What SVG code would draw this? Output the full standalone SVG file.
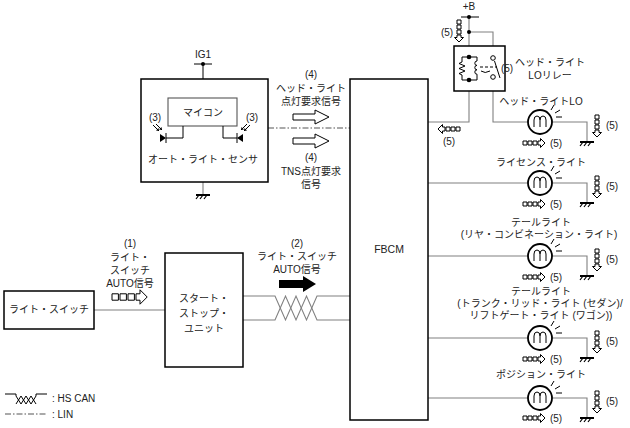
<svg xmlns="http://www.w3.org/2000/svg" xmlns:xlink="http://www.w3.org/1999/xlink" width="630" height="428" viewBox="0 0 630 428">
<style>
text{font-family:"Liberation Sans","Noto Sans CJK JP",sans-serif;font-size:10px;fill:#222;text-anchor:middle}
.box{fill:#fff;stroke:#000;stroke-width:1.5}
.wire{fill:none;stroke:#808080;stroke-width:1.1}
.blk{fill:none;stroke:#000;stroke-width:1}
.lin{fill:none;stroke:#555;stroke-width:1.1;stroke-dasharray:6 2 1.5 2}
.lamp{fill:#fff;stroke:#000;stroke-width:1.8}
.hol{fill:#fff;stroke:#000;stroke-width:1;vector-effect:non-scaling-stroke}
</style>
<defs>
<g id="sqr">
<rect x="0" y="-2" width="4" height="4" class="hol"/>
<rect x="5" y="-2" width="4" height="4" class="hol"/>
<rect x="10" y="-2" width="4" height="4" class="hol"/>
<path d="M15,-2 H17.5 V-4.5 L22,0 L17.5,4.5 V2 H15 Z" class="hol"/>
</g>
<g id="gnd">
<path d="M-7,0 H7" stroke="#000" stroke-width="2"/>
<path d="M-4,0 L-7,4 M0,0 L-3,4 M4,0 L1,4" stroke="#000" stroke-width="1.2"/>
</g>
<g id="bulb">
<circle cx="0" cy="0" r="12" class="lamp"/>
<path d="M-6,5 V-2 Q-6,-6 -3,-6 Q0,-6 0,-2 V5 M0,-2 Q0,-6 3,-6 Q6,-6 6,-2 V5" class="blk" stroke-width="1.1"/>
<path d="M11,-12 L14,-17 M15,-9 L20,-12 M16,-5 L22,-5" class="blk"/>
</g>
</defs>

<g id="connectors">
<path class="wire" d="M94,310 H165"/>
<path class="wire" d="M243,296 H275 L285.5,320 L296,296 L306.5,320 L317,296 H350"/>
<path class="wire" d="M243,320 H275 L285.5,296 L296,320 L306.5,296 L317,320 H350"/>
<path class="lin" d="M268,128 H350"/>
<path class="blk" d="M194,64 H212 M203,64 V79"/>
<circle cx="203" cy="64" r="2" fill="#000"/>
<path class="wire" d="M203,182 V195"/>
<use xlink:href="#gnd" x="203" y="195"/>
<path class="blk" d="M461,17 H479"/>
<path class="wire" d="M469,17 V57 M469,32 H493 V56"/>
<circle cx="469" cy="17" r="2" fill="#000"/>
<circle cx="469" cy="32" r="2" fill="#000"/>
<path class="wire" d="M469,80 V122 H428"/>
<path class="wire" d="M493,79 V122 H528"/>
<path class="wire" d="M552,122 H587 V142"/>
<path class="wire" d="M428,183 H528 M552,183 H587 V203"/>
<path class="wire" d="M428,256 H528 M552,256 H587 V276"/>
<path class="wire" d="M428,338 H528 M552,338 H587 V358"/>
<path class="wire" d="M428,398 H528 M552,398 H587 V418"/>
</g>

<g id="light-switch">
<rect x="4" y="291" width="90" height="38" class="box"/>
<text x="49" y="313">ライト・スイッチ</text>
</g>

<g id="start-stop-unit">
<rect x="165" y="253" width="78" height="114" class="box"/>
<text x="204" y="302">スタート・</text>
<text x="204" y="317">ストップ・</text>
<text x="204" y="332">ユニット</text>
</g>

<g id="fbcm">
<rect x="350" y="79" width="78" height="341" class="box"/>
<text x="389" y="253" style="font-size:10.5px">FBCM</text>
</g>

<g id="auto-light-sensor">
<rect x="141" y="79" width="127" height="103" class="box"/>
<text x="203" y="58">IG1</text>
<rect x="168" y="98" width="69" height="28" fill="#fff" stroke="#555" stroke-width="1.1"/>
<text x="203" y="116">マイコン</text>
<path class="blk" d="M183,126 V138 H166"/>
<path class="blk" d="M223,126 V138 H237"/>
<path d="M160,134 L166,138 L160,142 Z" fill="#000"/>
<path class="blk" stroke-width="1.3" d="M166,133 V143"/>
<path d="M243,134 L237,138 L243,142 Z" fill="#000"/>
<path class="blk" stroke-width="1.3" d="M237,133 V143"/>
<path class="blk" d="M153,125 L159,131 M156,124 L162,130"/>
<path d="M159,131 L156,130.5 L158.5,128 Z M162,130 L159,129.5 L161.5,127 Z" fill="#000"/>
<path class="blk" d="M250,125 L244,131 M247,124 L241,130"/>
<path d="M244,131 L247,130.5 L244.5,128 Z M241,130 L244,129.5 L241.5,127 Z" fill="#000"/>
<text x="155" y="121">(3)</text>
<text x="252" y="121">(3)</text>
<text x="203" y="163">オート・ライト・センサ</text>
</g>

<g id="signal-4">
<text x="311" y="78">(4)</text>
<text x="311" y="92">ヘッド・ライト</text>
<text x="311" y="105">点灯要求信号</text>
<path class="hol" d="M293,114 H315 V110 L329,117 L315,124 V120 H293 Z"/>
<path class="hol" d="M293,138 H315 V134 L329,141 L315,148 V144 H293 Z"/>
<text x="311" y="161">(4)</text>
<text x="311" y="175">TNS点灯要求</text>
<text x="311" y="188">信号</text>
</g>

<g id="signal-1">
<text x="130" y="247">(1)</text>
<text x="130" y="261">ライト・</text>
<text x="130" y="274">スイッチ</text>
<text x="130" y="287">AUTO信号</text>
<use xlink:href="#sqr" transform="translate(112,297) scale(1.6)"/>
</g>

<g id="signal-2">
<text x="297" y="247">(2)</text>
<text x="297" y="260">ライト・スイッチ</text>
<text x="297" y="273">AUTO信号</text>
<path d="M279,280 H303 V276 L316,284 L303,292 V288 H279 Z" fill="#000"/>
</g>

<g id="headlight-lo-relay">
<rect x="454" y="46" width="51" height="45" class="box"/>
<text x="469" y="10">+B</text>
<path class="blk" d="M462,57 H477 M462,80 H477"/>
<path class="blk" d="M462,57 V62 L459,63.5 L465,66 L459,68.5 L465,71 L459,73.5 L462,75 V80"/>
<path class="blk" d="M477,57 V61 a2.2,2.2 0 0 0 0,4.4 a2.2,2.2 0 0 0 0,4.4 a2.2,2.2 0 0 0 0,4.4 V80"/>
<circle cx="469" cy="57" r="2.3" fill="#000"/>
<circle cx="469" cy="80" r="2.3" fill="#000"/>
<circle cx="493" cy="58" r="2.3" fill="#fff" stroke="#000"/>
<circle cx="493" cy="77" r="2.3" fill="#fff" stroke="#000"/>
<path class="blk" d="M494.5,61 L500,78"/>
<path class="blk" d="M480,67 H497" stroke-dasharray="3 2"/>
<path class="blk" d="M481,71 Q485,74 490,71" stroke-width="1.8"/>
<text x="507" y="72">(5)</text>
<text x="550" y="66">ヘッド・ライト</text>
<text x="550" y="79">LOリレー</text>
<use xlink:href="#sqr" transform="translate(459,20) rotate(90)"/>
<text x="447" y="36">(5)</text>
<use xlink:href="#sqr" transform="translate(460,129) rotate(180)"/>
<text x="449" y="145">(5)</text>
</g>

<g id="headlight-lo">
<use xlink:href="#bulb" x="540" y="122"/>
<text x="541" y="105">ヘッド・ライトLO</text>
<use xlink:href="#gnd" x="587" y="142"/>
<use xlink:href="#sqr" transform="translate(597,115) rotate(90)"/>
<text x="612" y="129">(5)</text>
<use xlink:href="#sqr" x="523" y="143"/>
<text x="556" y="147">(5)</text>
</g>

<g id="license-light">
<use xlink:href="#bulb" x="540" y="183"/>
<text x="541" y="166">ライセンス・ライト</text>
<use xlink:href="#gnd" x="587" y="203"/>
<use xlink:href="#sqr" transform="translate(597,176) rotate(90)"/>
<text x="612" y="190">(5)</text>
<use xlink:href="#sqr" x="523" y="204"/>
<text x="556" y="208">(5)</text>
</g>

<g id="tail-light-rear-combination">
<use xlink:href="#bulb" x="540" y="256"/>
<text x="541" y="226">テールライト</text>
<text x="539" y="238">(リヤ・コンビネーション・ライト)</text>
<use xlink:href="#gnd" x="587" y="276"/>
<use xlink:href="#sqr" transform="translate(597,249) rotate(90)"/>
<text x="612" y="263">(5)</text>
<use xlink:href="#sqr" x="523" y="277"/>
<text x="556" y="281">(5)</text>
</g>

<g id="tail-light-trunk-liftgate">
<use xlink:href="#bulb" x="540" y="338"/>
<text x="541" y="295">テールライト</text>
<text x="540" y="307">(トランク・リッド・ライト (セダン)/</text>
<text x="541" y="319">リフトゲート・ライト (ワゴン))</text>
<use xlink:href="#gnd" x="587" y="358"/>
<use xlink:href="#sqr" transform="translate(597,331) rotate(90)"/>
<text x="612" y="345">(5)</text>
<use xlink:href="#sqr" x="523" y="359"/>
<text x="556" y="363">(5)</text>
</g>

<g id="position-light">
<use xlink:href="#bulb" x="540" y="398"/>
<text x="541" y="378">ポジション・ライト</text>
<use xlink:href="#gnd" x="587" y="418"/>
<use xlink:href="#sqr" transform="translate(597,391) rotate(90)"/>
<text x="612" y="405">(5)</text>
<use xlink:href="#sqr" x="523" y="418"/>
<text x="556" y="422">(5)</text>
</g>

<g id="legend">
<path class="blk" d="M5,394 H16 V396 L21,404 L26,396 L31,404 L36,396 V394 H47"/>
<path class="blk" d="M16,404 L21,396 L26,404 L31,396 L36,404"/>
<path class="lin" d="M5,414 H47"/>
<text x="52" y="402" style="text-anchor:start">: HS CAN</text>
<text x="52" y="418" style="text-anchor:start">: LIN</text>
</g>
</svg>
